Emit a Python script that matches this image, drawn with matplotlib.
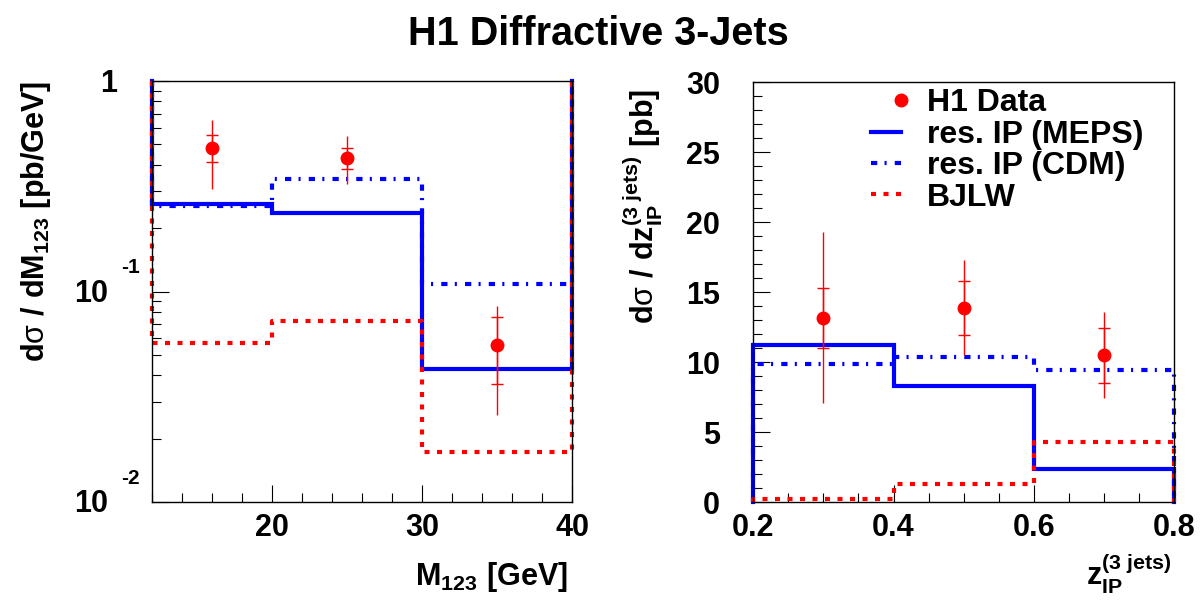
import numpy as np
import matplotlib
matplotlib.use("Agg")
import matplotlib.pyplot as plt
import matplotlib.transforms as mtransforms
from matplotlib.ticker import FixedLocator, NullFormatter, MultipleLocator, FuncFormatter
from matplotlib.legend_handler import HandlerLine2D

plt.rcParams['font.family'] = ['Liberation Sans', 'DejaVu Sans']
plt.rcParams['font.weight'] = 'bold'
plt.rcParams['mathtext.fontset'] = 'custom'
plt.rcParams['mathtext.rm'] = 'Liberation Sans'
plt.rcParams['mathtext.bf'] = 'Liberation Sans:bold'
plt.rcParams['mathtext.it'] = 'Liberation Sans:italic'
plt.rcParams['mathtext.sf'] = 'Liberation Sans'

# ---------------- data: M123 panel ----------------
m_edges = [12, 20, 30, 40]
m_meps = [0.26, 0.235, 0.0427]
m_cdm = [0.255, 0.343, 0.108]
m_bjlw = [0.0569, 0.0724, 0.0173]
m_x = [16, 25, 35]
m_y = [0.479, 0.432, 0.0559]
m_stat_lo = [0.412, 0.383, 0.0362]
m_stat_hi = [0.552, 0.482, 0.0757]
m_tot_lo = [0.307, 0.323, 0.0259]
m_tot_hi = [0.653, 0.545, 0.0857]

# ---------------- data: z_IP panel ----------------
z_edges = [0.2, 0.4, 0.6, 0.8]
z_meps = [11.2, 8.33, 2.36]
z_cdm = [9.9, 10.36, 9.43]
z_bjlw = [0.21, 1.31, 4.29]
z_x = [0.3, 0.5, 0.7]
z_y = [13.16, 13.88, 10.52]
z_stat_lo = [11.04, 11.95, 8.54]
z_stat_hi = [15.33, 15.83, 12.45]
z_tot_lo = [7.07, 10.52, 7.43]
z_tot_hi = [19.3, 17.3, 13.57]

BLUE = '#0000ff'
RED = '#ff0000'
LW = 3.0
CDM_DASH = (1.5, 1.75, 0.5, 1.95)
BJLW_DASH = (1.2, 1.8)

fig = plt.figure(figsize=(12, 6.08), dpi=100)
axL = fig.add_axes([152/1200, 1-502/608, 420/1200, 421/608])
axR = fig.add_axes([753.3/1200, 1-502.3/608, 420.7/1200, 420.3/608])


def outline(edges, vals, end):
    xs = np.repeat(np.asarray(edges, float), 2)
    ys = np.concatenate([[end], np.repeat(np.asarray(vals, float), 2), [end]])
    return xs, ys


def draw_hists(ax, edges, meps, cdm, bjlw, end):
    x, y = outline(edges, meps, end)
    ax.plot(x, y, color=BLUE, lw=LW, solid_joinstyle='miter', clip_on=False,
            label='res. IP (MEPS)')
    x, y = outline(edges, cdm, end)
    ax.plot(x, y, color=BLUE, lw=LW, dashes=CDM_DASH, clip_on=False, label='res. IP (CDM)')
    x, y = outline(edges, bjlw, end)
    ax.plot(x, y, color=RED, lw=LW, dashes=BJLW_DASH, clip_on=False, label='BJLW')


def draw_data(ax, x, y, slo, shi, tlo, thi):
    y = np.asarray(y)
    ax.errorbar(x, y, yerr=[y - np.asarray(tlo), np.asarray(thi) - y], fmt='none',
                ecolor=RED, elinewidth=1.0, capsize=0, zorder=5)
    ax.errorbar(x, y, yerr=[y - np.asarray(slo), np.asarray(shi) - y], fmt='none',
                ecolor=RED, elinewidth=1.0, capsize=4.5, capthick=1.0, zorder=5)
    ax.plot(x, y, 'o', color=RED, ms=9, zorder=6, label='H1 Data')


class RightMarkerHandler(HandlerLine2D):
    def create_artists(self, legend, orig_handle, xdescent, ydescent, width, height,
                       fontsize, trans):
        arts = super().create_artists(legend, orig_handle, xdescent, ydescent, width,
                                      height, fontsize, trans)
        for a in arts:
            try:
                a.set_markevery([2])
            except Exception:
                pass
        return arts


for ax in (axL, axR):
    for s in ax.spines.values():
        s.set_linewidth(1.0)
    ax.tick_params(which='both', direction='in', top=False, right=False, width=0.8)
    ax.tick_params(which='major', length=12.5)
    ax.tick_params(which='minor', length=6.5)

# ----- left panel -----
axL.set_yscale('log')
axL.set_xlim(12, 40)
axL.set_ylim(0.01, 1)
draw_hists(axL, m_edges, m_meps, m_cdm, m_bjlw, 1.0)
draw_data(axL, m_x, m_y, m_stat_lo, m_stat_hi, m_tot_lo, m_tot_hi)
axL.xaxis.set_major_locator(FixedLocator([20, 30, 40]))
axL.xaxis.set_minor_locator(MultipleLocator(2))
axL.tick_params(axis='x', labelsize=22, pad=8)
axL.yaxis.set_major_locator(FixedLocator([0.01, 0.1, 1]))
axL.yaxis.set_minor_locator(FixedLocator([k * 10.0**e for e in (-2, -1) for k in range(2, 10)]))
axL.yaxis.set_major_formatter(NullFormatter())
axL.yaxis.set_minor_formatter(NullFormatter())
for lbl in axL.get_xticklabels():
    lbl.set_fontweight('bold')

# custom ROOT-style log tick labels
ytr = axL.get_yaxis_transform()
def px(dx, dy):
    return ytr + mtransforms.ScaledTranslation(dx/100, dy/100, fig.dpi_scale_trans)

ytick_vals = [1, 0.1, 0.01]
ytick_exp = [None, '-1', '-2']
for v, e in zip(ytick_vals, ytick_exp):
    if e is None:
        axL.text(0, v, '1', transform=px(-35, -3), ha='right', va='center',
                 fontsize=22, fontweight='bold')
    else:
        axL.text(0, v, '10', transform=px(-44, -2), ha='right', va='center',
                 fontsize=22, fontweight='bold')
        axL.text(0, v, e, transform=px(-31, 24), ha='left', va='center',
                 fontsize=15, fontweight='bold')

axL.set_ylabel(r'$\mathbf{d}$σ$\mathbf{\ /\ dM_{123}}\ \mathrm{[}\mathbf{pb/GeV}\mathrm{]}$',
               fontsize=22, loc='top')
axL.yaxis.set_label_coords(-0.236, 1.0)
axL.set_xlabel(r'$\mathbf{M_{123}}\ \mathrm{[}\mathbf{GeV}\mathrm{]}$', fontsize=22, loc='right')
axL.xaxis.set_label_coords(0.99, -0.197)
axL.xaxis.label.set_va('baseline')

# ----- right panel -----
axR.set_xlim(0.2, 0.8)
axR.set_ylim(0, 30)
draw_hists(axR, z_edges, z_meps, z_cdm, z_bjlw, 0.0)
draw_data(axR, z_x, z_y, z_stat_lo, z_stat_hi, z_tot_lo, z_tot_hi)
axR.xaxis.set_major_locator(MultipleLocator(0.2))
axR.xaxis.set_minor_locator(MultipleLocator(0.05))
axR.yaxis.set_major_locator(MultipleLocator(5))
axR.yaxis.set_minor_locator(MultipleLocator(1))
axR.tick_params(axis='x', labelsize=22, pad=8)
axR.tick_params(axis='y', labelsize=22, pad=24)
axR.xaxis.set_major_formatter(FuncFormatter(lambda v, p: f'{v:.1f}'))
for lbl in axR.get_xticklabels() + axR.get_yticklabels():
    lbl.set_fontweight('bold')

axR.set_ylabel(r'$\mathbf{d}$σ$\mathbf{\ /\ dz_{IP}^{(3\ jets)}}\ \mathrm{[}\mathbf{pb}\mathrm{]}$',
               fontsize=22, loc='top')
axR.yaxis.set_label_coords(-0.21, 0.984)
axR.set_xlabel(r'$\mathbf{z_{IP}^{(3\ jets)}}$', fontsize=22, loc='right')
axR.xaxis.set_label_coords(0.995, -0.197)
axR.xaxis.label.set_va('baseline')

# legend
h, l = axR.get_legend_handles_labels()
order = ['H1 Data', 'res. IP (MEPS)', 'res. IP (CDM)', 'BJLW']
hd = dict(zip(l, h))
leg = axR.legend([hd[k] for k in order], order, loc='upper left',
                 bbox_to_anchor=(0.28, 0.985), frameon=False, fontsize=23,
                 handlelength=0.95, handletextpad=0.8, labelspacing=0.045,
                 borderpad=0, borderaxespad=0, numpoints=1,
                 handler_map={hd['H1 Data']: RightMarkerHandler()})
for t in leg.get_texts():
    t.set_fontweight('bold')

fig.text(0.4985, 1 - 34/608, 'H1 Diffractive 3-Jets', ha='center', va='center',
         fontsize=28.5, fontweight='bold')

fig.savefig('out.png', dpi=100)
